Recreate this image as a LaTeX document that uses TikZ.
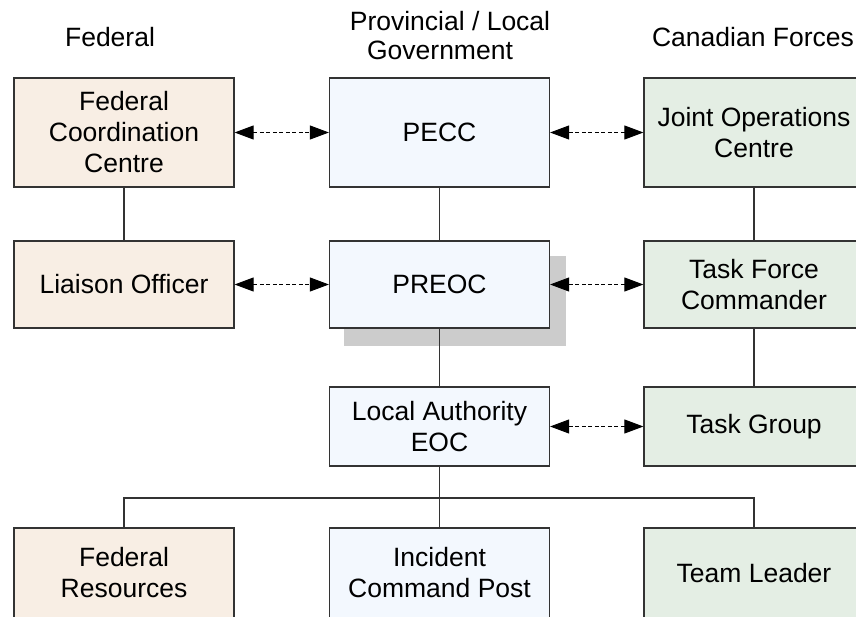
\documentclass[tikz,border=0pt]{standalone}
\usepackage{fontspec}
\setmainfont{Liberation Sans}
\usetikzlibrary{arrows.meta}
\definecolor{fedfill}{HTML}{F8EEE4}
\definecolor{provfill}{HTML}{F3F8FE}
\definecolor{cffill}{HTML}{E4EEE4}
\definecolor{boxline}{HTML}{333333}
\definecolor{shadowgray}{HTML}{CCCCCC}
\tikzset{
  txt/.style={font=\fontsize{26.5}{31}\selectfont, inner sep=0pt},
  box/.style={txt, draw=boxline, line width=1.2pt, minimum width=220pt, align=center},
  fed/.style={box, fill=fedfill},
  prov/.style={box, fill=provfill},
  cf/.style={box, fill=cffill},
  link/.style={draw=boxline, line width=1.1pt},
  dlink/.style={black, line width=0.9pt, dash pattern=on 4pt off 2.5pt,
     {Triangle[length=19pt,width=14pt]}-{Triangle[length=19pt,width=14pt]}}
}
\begin{document}
\begin{tikzpicture}[x=1pt,y=-1pt]
\useasboundingbox (0,0) rectangle (856,616);
\clip (0,0) rectangle (856,616);
% headers
\node[txt] (hfed) at (110,37) {Federal};
\node[txt] (hprov1) at (450,21) {Provincial / Local};
\node[txt] (hprov2) at (440,50) {Government};
\node[txt] (hcf) at (753,37) {Canadian Forces};
% shadow
\fill[shadowgray] (344,256) rectangle (566,346);
% row 1
\node[fed, minimum height=109pt] (fcc) at (124,132.5) {Federal\\Coordination\\Centre};
\node[prov, minimum height=109pt] (pecc) at (439.5,132.5) {PECC};
\node[cf, minimum height=109pt] (joc) at (754,132.5) {Joint Operations\\Centre};
% row 2
\node[fed, minimum height=87pt] (lo) at (124,284.5) {Liaison Officer};
\node[prov, minimum height=87pt] (preoc) at (439.5,284.5) {PREOC};
\node[cf, minimum height=87pt] (tfc) at (754,284.5) {Task Force\\Commander};
% row 3
\node[prov, minimum height=79pt] (laeoc) at (439.5,426.5) {Local Authority\\EOC};
\node[cf, minimum height=79pt] (tg) at (754,426.5) {Task Group};
% row 4
\node[fed, minimum height=90pt] (fr) at (124,573) {Federal\\Resources};
\node[prov, minimum height=90pt] (icp) at (439.5,573) {Incident\\Command Post};
\node[cf, minimum height=90pt] (tl) at (754,573) {Team Leader};
% solid connectors
\draw[link] (fcc) -- (lo);
\draw[link] (pecc) -- (preoc);
\draw[link] (joc) -- (tfc);
\draw[link] (preoc) -- (laeoc);
\draw[link] (tfc) -- (tg);
\coordinate (bus) at (439.5,498);
\draw[link] (laeoc.south) -- (bus);
\draw[link] (fr.north) |- (bus) -| (tl.north);
\draw[link] (bus) -- (icp.north);
% dashed arrows
\draw[dlink] (fcc.east) -- (pecc.west);
\draw[dlink] (pecc.east) -- (joc.west);
\draw[dlink] (lo.east) -- (preoc.west);
\draw[dlink] (preoc.east) -- (tfc.west);
\draw[dlink] (laeoc.east) -- (tg.west);
\end{tikzpicture}
\end{document}
